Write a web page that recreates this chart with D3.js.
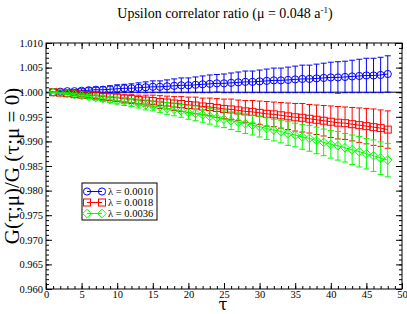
<!DOCTYPE html>
<html>
<head>
<meta charset="utf-8">
<script src="https://cdn.jsdelivr.net/npm/d3@7"></script>
<style>
  body { margin: 0; background: #fff; }
  svg { display: block; font-family: "Liberation Serif", "Times New Roman", serif; }
  .greek { font-family: "DejaVu Serif", serif; }
</style>
</head>
<body>
<div id="chart"></div>
<script>
// tau values 1..48
const tau = [1,2,3,4,5,6,7,8,9,10,11,12,13,14,15,16,17,18,19,20,21,22,23,24,
             25,26,27,28,29,30,31,32,33,34,35,36,37,38,39,40,41,42,43,44,45,46,47,48];

const blueVals = [1.0000,1.0001,1.0002,1.0002,1.0003,1.0004,1.0005,1.0005,1.0006,1.0007,1.0008,1.0008,
                  1.0009,1.0010,1.0011,1.0011,1.0012,1.0013,1.0014,1.0014,1.0015,1.0016,1.0017,1.0018,
                  1.0018,1.0019,1.0020,1.0021,1.0021,1.0022,1.0023,1.0024,1.0024,1.0025,1.0026,1.0027,
                  1.0027,1.0028,1.0029,1.0030,1.0030,1.0031,1.0032,1.0033,1.0034,1.0034,1.0035,1.0037];
const blueErr = [0.0001,0.0002,0.0002,0.0003,0.0004,0.0005,0.0005,0.0006,0.0007,0.0008,0.0008,0.0009,
                 0.0010,0.0011,0.0012,0.0012,0.0013,0.0014,0.0015,0.0015,0.0016,0.0017,0.0018,0.0018,
                 0.0019,0.0020,0.0021,0.0022,0.0022,0.0023,0.0024,0.0025,0.0025,0.0026,0.0027,0.0028,
                 0.0028,0.0029,0.0030,0.0031,0.0032,0.0032,0.0033,0.0034,0.0035,0.0035,0.0036,0.0037];

const redVals = [1.0000,0.9999,0.9998,0.9996,0.9995,0.9994,0.9993,0.9991,0.9990,0.9989,0.9987,0.9986,
                 0.9984,0.9983,0.9982,0.9980,0.9979,0.9977,0.9976,0.9974,0.9973,0.9971,0.9970,0.9968,
                 0.9966,0.9965,0.9963,0.9961,0.9960,0.9958,0.9956,0.9955,0.9953,0.9951,0.9949,0.9948,
                 0.9946,0.9944,0.9942,0.9940,0.9938,0.9937,0.9935,0.9933,0.9931,0.9929,0.9927,0.9924];
const redErr = [0.0001,0.0002,0.0002,0.0003,0.0004,0.0005,0.0006,0.0006,0.0007,0.0008,0.0009,0.0009,
                0.0010,0.0011,0.0012,0.0013,0.0013,0.0014,0.0015,0.0016,0.0017,0.0017,0.0018,0.0019,
                0.0020,0.0021,0.0021,0.0022,0.0023,0.0024,0.0025,0.0025,0.0026,0.0027,0.0028,0.0029,
                0.0029,0.0030,0.0031,0.0032,0.0033,0.0033,0.0034,0.0035,0.0036,0.0037,0.0037,0.0038];

const greenVals = [1.0000,0.9998,0.9997,0.9995,0.9993,0.9991,0.9989,0.9987,0.9985,0.9983,0.9981,0.9979,
                   0.9977,0.9974,0.9972,0.9970,0.9967,0.9965,0.9962,0.9959,0.9957,0.9954,0.9951,0.9948,
                   0.9945,0.9942,0.9939,0.9936,0.9933,0.9930,0.9926,0.9923,0.9920,0.9916,0.9913,0.9909,
                   0.9906,0.9902,0.9898,0.9894,0.9891,0.9887,0.9883,0.9879,0.9875,0.9871,0.9866,0.9862];
const greenErr = [0.0001,0.0001,0.0002,0.0003,0.0003,0.0004,0.0005,0.0006,0.0006,0.0007,0.0008,0.0008,
                  0.0009,0.0010,0.0010,0.0011,0.0012,0.0013,0.0013,0.0014,0.0015,0.0015,0.0016,0.0017,
                  0.0017,0.0018,0.0019,0.0020,0.0020,0.0021,0.0022,0.0022,0.0023,0.0024,0.0024,0.0025,
                  0.0026,0.0027,0.0027,0.0028,0.0029,0.0029,0.0030,0.0031,0.0031,0.0032,0.0033,0.0034];

const seriesLabels = ["λ = 0.0010", "λ = 0.0018", "λ = 0.0036"];
const xTicks = [0,5,10,15,20,25,30,35,40,45,50];
const yTicks = [0.960,0.965,0.970,0.975,0.980,0.985,0.990,0.995,1.000,1.005,1.010];

const W = 407, H = 314;
const margin = {left: 46, top: 43, right: 5, bottom: 25};
const iw = W - margin.left - margin.right;
const ih = H - margin.top - margin.bottom;

const svg = d3.select("#chart").append("svg").attr("width", W).attr("height", H);
const g = svg.append("g").attr("transform", `translate(${margin.left},${margin.top})`);

const x = d3.scaleLinear().domain([0, 50]).range([0, iw]);
const y = d3.scaleLinear().domain([0.960, 1.010]).range([ih, 0]);

// minor ticks (no labels) on all four sides
const minorX = d3.range(0, 51, 1);
const minorY = d3.range(0, 51, 1).map(d => 0.960 + d * 0.001);
function axisSet(axis, vals, size, labels, pad) {
    const a = axis.tickValues(vals).tickSize(-size).tickPadding(pad);
    return labels ? a : a.tickFormat("");
}
const axes = [
    [d3.axisBottom(x), minorX, 3, false, `translate(0,${ih})`, 2],
    [d3.axisTop(x), minorX, 3, false, "", 2],
    [d3.axisLeft(y), minorY, 3, false, "", 3],
    [d3.axisRight(y), minorY, 3, false, `translate(${iw},0)`, 3],
    [d3.axisBottom(x), xTicks, 6, true, `translate(0,${ih})`, 2],
    [d3.axisTop(x), xTicks, 6, false, "", 2],
    [d3.axisLeft(y).tickFormat(d3.format(".3f")), yTicks, 6, true, "", 3],
    [d3.axisRight(y), yTicks, 6, false, `translate(${iw},0)`, 3]
];
axes.forEach(([ax, vals, size, labels, tr, pad]) => {
    const gg = g.append("g").attr("transform", tr).call(axisSet(ax, vals, size, labels, pad));
    gg.attr("font-family", null);
    gg.select(".domain").remove();
    gg.selectAll("line").attr("stroke", "#000");
    gg.selectAll("text")
        .style("font-family", "'Liberation Serif', serif")
        .style("font-size", "10.5px")
        .attr("fill", "#000");
});

// horizontal reference line at 1
g.append("line")
    .attr("x1", 0).attr("x2", iw)
    .attr("y1", y(1)).attr("y2", y(1))
    .attr("stroke", "#000").attr("stroke-width", 1);

// frame
g.append("rect").attr("width", iw).attr("height", ih)
    .attr("fill", "none").attr("stroke", "#000").attr("stroke-width", 1);

function marker(sel, shape, color) {
    if (shape === "circle") {
        sel.append("circle").attr("r", 3.6);
    } else if (shape === "square") {
        sel.append("rect").attr("x", -3.5).attr("y", -3.5).attr("width", 7).attr("height", 7);
    } else {
        sel.append("path").attr("d", "M0,-4.3L4.3,0L0,4.3L-4.3,0Z");
    }
    sel.selectAll("circle,rect,path").attr("fill", "none").attr("stroke", color).attr("stroke-width", 1);
}

const series = [
    {vals: blueVals, err: blueErr, color: "#0000ff", shape: "circle"},
    {vals: redVals, err: redErr, color: "#ff0000", shape: "square"},
    {vals: greenVals, err: greenErr, color: "#00ff00", shape: "diamond"}
];

const capW = 3;
series.forEach(s => {
    const pts = tau.map((t, i) => ({t, v: s.vals[i], e: s.err[i]}));
    const sg = g.append("g");
    // error bars
    const eb = sg.selectAll(".eb").data(pts).enter().append("g")
        .attr("stroke", s.color).attr("stroke-width", 1);
    eb.append("line").attr("x1", d => x(d.t)).attr("x2", d => x(d.t))
        .attr("y1", d => y(d.v + d.e)).attr("y2", d => y(d.v - d.e));
    eb.append("line").attr("x1", d => x(d.t) - capW).attr("x2", d => x(d.t) + capW)
        .attr("y1", d => y(d.v + d.e)).attr("y2", d => y(d.v + d.e));
    eb.append("line").attr("x1", d => x(d.t) - capW).attr("x2", d => x(d.t) + capW)
        .attr("y1", d => y(d.v - d.e)).attr("y2", d => y(d.v - d.e));
    // connecting line
    sg.append("path").datum(pts)
        .attr("d", d3.line().x(d => x(d.t)).y(d => y(d.v)))
        .attr("fill", "none").attr("stroke", s.color).attr("stroke-width", 1);
    // markers
    sg.selectAll(".mk").data(pts).enter().append("g")
        .attr("transform", d => `translate(${x(d.t)},${y(d.v)})`)
        .each(function() { marker(d3.select(this), s.shape, s.color); });
});

// legend
const lg = svg.append("g").attr("transform", "translate(82,183)");
lg.append("rect").attr("width", 75).attr("height", 37)
    .attr("fill", "#fff").attr("stroke", "#000").attr("stroke-width", 1);
series.forEach((s, i) => {
    const ry = 8.5 + i * 11;
    lg.append("line").attr("x1", 5).attr("x2", 20).attr("y1", ry).attr("y2", ry)
        .attr("stroke", s.color).attr("stroke-width", 1);
    [5, 20].forEach(px => {
        const m = lg.append("g").attr("transform", `translate(${px},${ry})`);
        marker(m, s.shape, s.color);
    });
    lg.append("text").attr("x", 26).attr("y", ry).attr("dy", "0.35em")
        .attr("font-size", 10.5).text(seriesLabels[i]);
});

// title
const title = svg.append("text").attr("x", 225).attr("y", 18)
    .attr("text-anchor", "middle").attr("font-size", 14);
title.append("tspan").text("Upsilon correlator ratio (μ = 0.048 a");
title.append("tspan").attr("font-size", 9).attr("dy", -5).text("-1");
title.append("tspan").attr("dy", 5).text(")");

// axis labels
svg.append("text").attr("class", "greek").attr("x", 223).attr("y", 310).attr("text-anchor", "middle")
    .attr("font-size", 16).text("τ");
const yl = svg.append("text").attr("transform", "translate(19,166) rotate(-90)")
    .attr("text-anchor", "middle").attr("font-size", 21);
yl.append("tspan").text("G(");
yl.append("tspan").attr("class", "greek").attr("font-size", 18).text("τ");
yl.append("tspan").text(";μ)/G (");
yl.append("tspan").attr("class", "greek").attr("font-size", 18).text("τ");
yl.append("tspan").text(";μ = 0)");
</script>
</body>
</html>
